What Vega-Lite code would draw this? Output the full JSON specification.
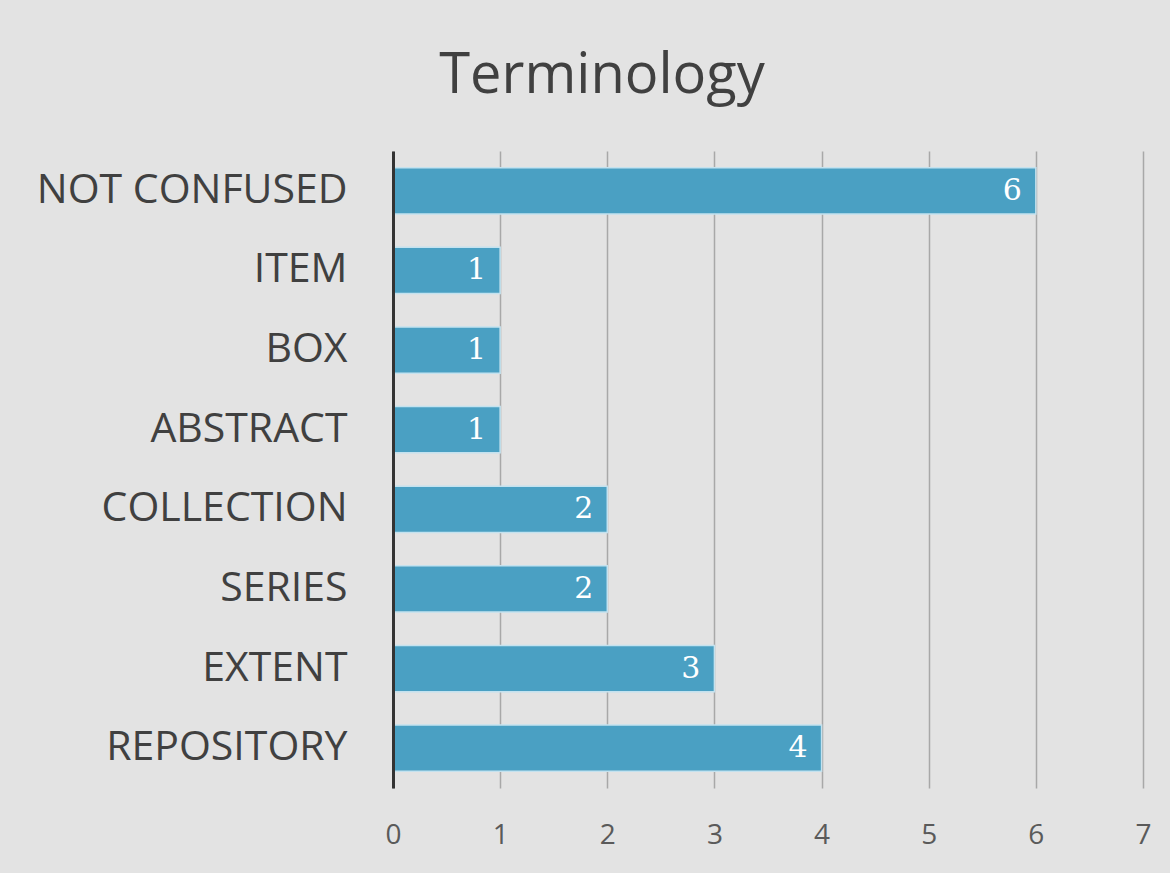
{
  "$schema": "https://vega.github.io/schema/vega-lite/v6.json",
  "autosize": {"type": "none"},
  "width": 750,
  "height": 637,
  "padding": {"left": 393, "top": 151, "right": 27, "bottom": 85},
  "background": "#e3e3e3",
  "title": {
    "text": "Terminology",
    "fontSize": 56,
    "font": "Open Sans",
    "fontWeight": "normal",
    "color": "#404040",
    "anchor": "middle",
    "dx": -166,
    "offset": 46
  },
  "data": {
    "values": [
      {"term": "NOT CONFUSED", "count": 6},
      {"term": "ITEM", "count": 1},
      {"term": "BOX", "count": 1},
      {"term": "ABSTRACT", "count": 1},
      {"term": "COLLECTION", "count": 2},
      {"term": "SERIES", "count": 2},
      {"term": "EXTENT", "count": 3},
      {"term": "REPOSITORY", "count": 4}
    ]
  },
  "config": {"view": {"stroke": null}},
  "encoding": {
    "y": {
      "field": "term",
      "type": "nominal",
      "sort": null,
      "title": null,
      "scale": {"paddingInner": 0.42, "paddingOuter": 0.21},
      "axis": {
        "labelFontSize": 41,
        "labelFont": "Open Sans",
        "labelColor": "#404040",
        "labelPadding": 46,
        "labelLimit": 0,
        "ticks": false,
        "domainColor": "#333333",
        "domainWidth": 3,
        "zindex": 2
      }
    },
    "x": {
      "field": "count",
      "type": "quantitative",
      "title": null,
      "scale": {"domain": [0, 7]},
      "axis": {
        "values": [0, 1, 2, 3, 4, 5, 6, 7],
        "labelFontSize": 28,
        "labelFont": "Open Sans",
        "labelColor": "#5a5a5a",
        "labelPadding": 33,
        "labelFlush": false,
        "ticks": false,
        "domain": false,
        "grid": true,
        "gridColor": "#a8a8a8",
        "gridWidth": 1.5
      }
    }
  },
  "layer": [
    {
      "mark": {"type": "bar", "color": "#4aa0c3", "stroke": "#c4e2ef", "strokeWidth": 1.5}
    },
    {
      "mark": {"type": "text", "align": "right", "dx": -14, "color": "white", "fontSize": 30, "font": "DejaVu Serif"},
      "encoding": {"text": {"field": "count"}}
    }
  ]
}
